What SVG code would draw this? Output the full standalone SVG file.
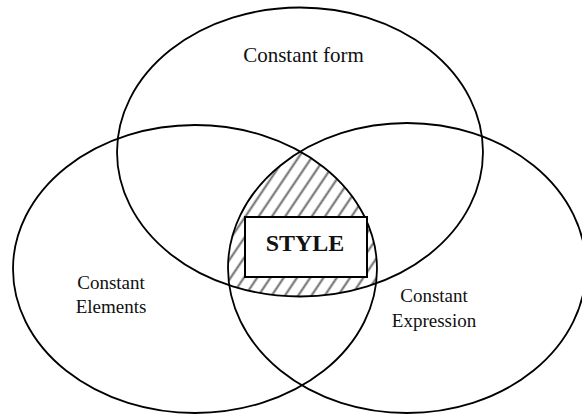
<svg xmlns="http://www.w3.org/2000/svg" width="582" height="415" viewBox="0 0 582 415">
<style>
.set{fill:none;stroke:#000;stroke-width:1.8}
.lbl{font-family:"Liberation Serif","Times New Roman",serif;font-size:19px;fill:#111;text-anchor:middle}
.top{font-size:21px}
.core{font-family:"Liberation Serif","Times New Roman",serif;font-size:24px;font-weight:bold;fill:#111;text-anchor:middle}
</style>
<defs>
<pattern id="hatch" width="11" height="11" patternUnits="userSpaceOnUse" patternTransform="rotate(34)">
<line x1="5.5" y1="0" x2="5.5" y2="11" stroke="#6a6a6a" stroke-width="2"/>
</pattern>
<clipPath id="cTop"><ellipse cx="300" cy="152" rx="183" ry="144.5"/></clipPath>
<clipPath id="cLeft"><ellipse cx="195" cy="269" rx="182" ry="144"/></clipPath>
<clipPath id="cRight"><ellipse cx="407" cy="268" rx="179" ry="145"/></clipPath>
</defs>
<rect width="582" height="415" fill="#fff"/>
<g id="intersection-hatch" clip-path="url(#cTop)">
<g clip-path="url(#cLeft)">
<g clip-path="url(#cRight)">
<rect x="200" y="120" width="200" height="200" fill="url(#hatch)"/>
</g>
</g>
</g>
<g id="constant-form">
<ellipse class="set" cx="300" cy="152" rx="183" ry="144.5"/>
<text class="lbl top" x="303.5" y="62">Constant form</text>
</g>
<g id="constant-elements">
<ellipse class="set" cx="195" cy="269" rx="182" ry="144"/>
<text class="lbl" x="111" y="289">Constant</text>
<text class="lbl" x="111" y="313">Elements</text>
</g>
<g id="constant-expression">
<ellipse class="set" cx="407" cy="268" rx="179" ry="145"/>
<text class="lbl" x="434" y="302">Constant</text>
<text class="lbl" x="434" y="327">Expression</text>
</g>
<g id="style">
<rect x="245" y="217" width="122" height="60" fill="#fff" stroke="#000" stroke-width="2"/>
<text class="core" x="305" y="251">STYLE</text>
</g>
</svg>
